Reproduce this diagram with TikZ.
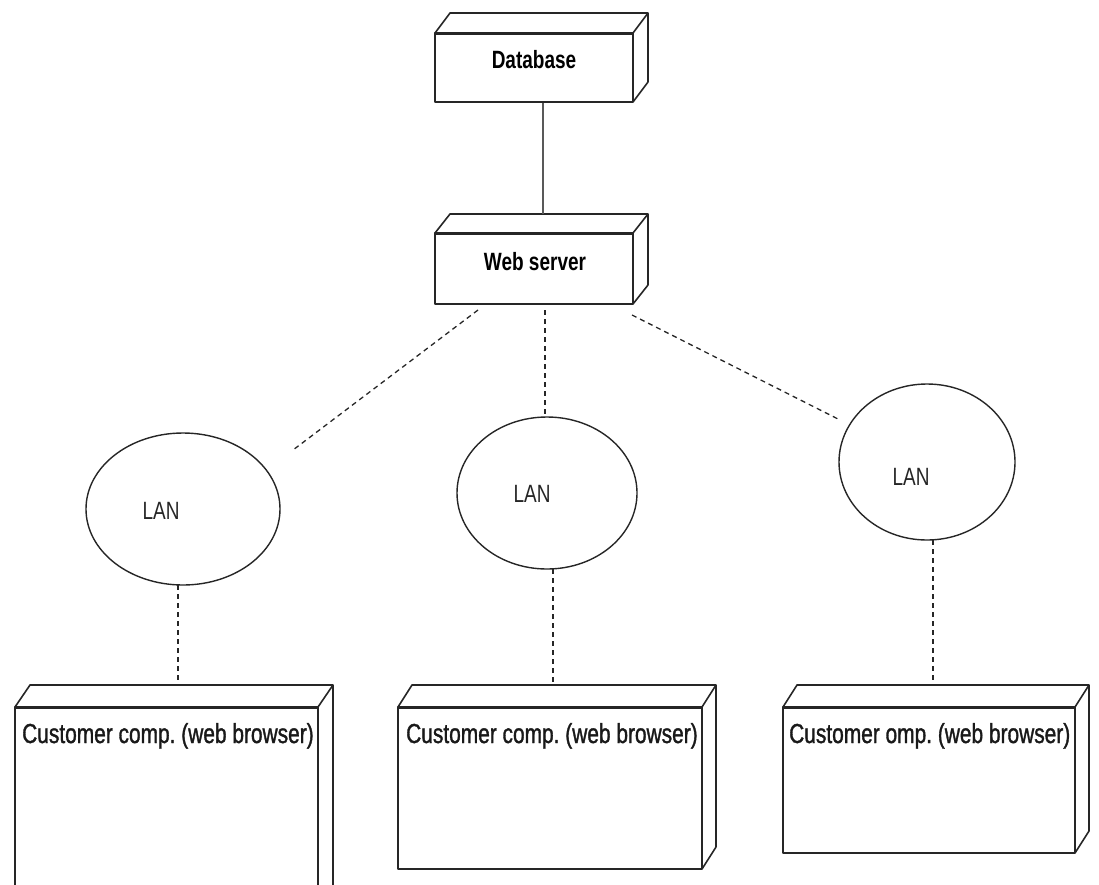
\documentclass[tikz,border=0pt]{standalone}
\usepackage{fontspec}
\usetikzlibrary{shapes.geometric,calc}
\newfontfamily\narrowsans{Liberation Sans}[FakeStretch=0.76]
\newfontfamily\narrowsansmedium{Liberation Sans}[FakeStretch=0.76, FakeBold=1.2]
\frenchspacing

\tikzset{
  boxline/.style={draw=black!85, line width=1.6pt, line join=round},
  frontbox/.style={boxline, rectangle, inner sep=0pt, outer sep=0pt, anchor=north west},
  lanshape/.style={ellipse, draw=black!85, line width=1.4pt, inner sep=0pt, outer sep=0pt},
  dashlink/.style={draw=black!85, line width=1.3pt, dash pattern=on 5pt off 4pt},
  solidlink/.style={draw=black!65, line width=1.6pt},
  servertext/.style={font=\narrowsans\bfseries\fontsize{25}{28}\selectfont, inner sep=0pt},
  clienttext/.style={font=\narrowsansmedium\fontsize{27.5}{30}\selectfont, inner sep=0pt, anchor=base west, text=black!90},
  lantext/.style={font=\narrowsans\fontsize{25}{28}\selectfont, inner sep=0pt, text=black!85},
}

% top and right faces of a 3D node drawn behind its front rectangle
\newcommand\boxdepth[3]{%
  \draw[boxline] (#1.north west) -- ++(#2,#3) -- ($(#1.north east)+(#2,#3)$)
    -- ($(#1.south east)+(#2,#3)$) -- (#1.south east);
  \draw[boxline] (#1.north east) -- ++(#2,#3);
  \draw[boxline, line width=3pt] (#1.north west) -- (#1.north east);
}

\begin{document}
\begin{tikzpicture}[x=1pt, y=-1pt]
  \useasboundingbox (0,0) rectangle (1099,884);
  \clip (0,0) rectangle (1099,884);

  % servers
  \node[frontbox, minimum width=198pt, minimum height=69pt] (db) at (435,33) {};
  \boxdepth{db}{15}{-20}
  \node[servertext] (dbtext) at (534,60) {Database};

  \node[frontbox, minimum width=198pt, minimum height=71pt] (ws) at (435,233) {};
  \boxdepth{ws}{15}{-19}
  \node[servertext] (wstext) at (535,262) {Web server};

  % local networks
  \node[lanshape, minimum width=194pt, minimum height=152pt] (lan1) at (183,509) {};
  \node[lanshape, minimum width=180pt, minimum height=152pt] (lan2) at (547,493) {};
  \node[lanshape, minimum width=176pt, minimum height=156pt] (lan3) at (927,462) {};
  \node[lantext] (lan1text) at (161,511) {LAN};
  \node[lantext] (lan2text) at (532,494) {LAN};
  \node[lantext] (lan3text) at (911,477) {LAN};

  % client machines
  \node[frontbox, minimum width=303pt, minimum height=200pt] (c1) at (15,707) {};
  \boxdepth{c1}{15}{-22}
  \node[frontbox, minimum width=304pt, minimum height=162pt] (c2) at (398,707) {};
  \boxdepth{c2}{14}{-22}
  \node[frontbox, minimum width=292pt, minimum height=146pt] (c3) at (783,707) {};
  \boxdepth{c3}{14}{-22}
  \node[clienttext] (c1text) at (22,743) {Customer comp. (web browser)};
  \node[clienttext] (c2text) at (406,743) {Customer comp. (web browser)};
  \node[clienttext] (c3text) at (789,743) {Customer omp. (web browser)};

  % connectors
  \coordinate (dbfoot) at (543,103);
  \coordinate (wshead) at (543,214);
  \draw[solidlink] (dbfoot) -- (wshead);

  \coordinate (ws1) at (478,310);
  \coordinate (lan1end) at (293,450);
  \coordinate (ws2) at (545,310);
  \coordinate (lan2end) at (545,416);
  \coordinate (ws3) at (632,315);
  \coordinate (lan3end) at (840,420);
  \draw[dashlink] (ws1) -- (lan1end);
  \draw[dashlink] (ws2) -- (lan2end);
  \draw[dashlink] (ws3) -- (lan3end);

  \coordinate (c1top) at (178,685);
  \coordinate (c2top) at (553,685);
  \coordinate (c3top) at (933,685);
  \draw[dashlink] (lan1.south -| c1top) -- (c1top);
  \draw[dashlink] (lan2.south -| c2top) -- (c2top);
  \draw[dashlink] (lan3.south -| c3top) -- (c3top);
\end{tikzpicture}
\end{document}
